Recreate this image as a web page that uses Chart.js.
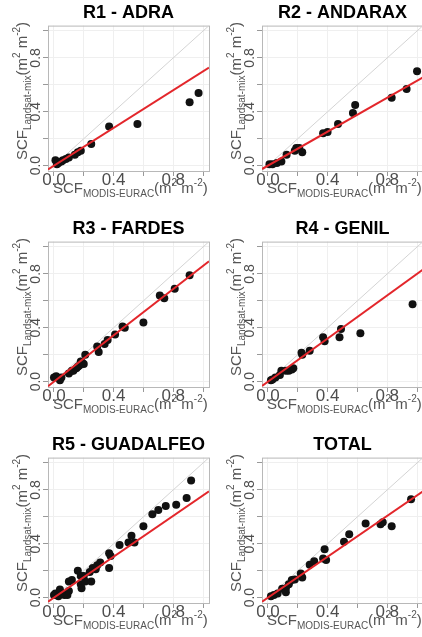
<!DOCTYPE html>
<html>
<head>
<meta charset="utf-8">
<script src="https://cdn.jsdelivr.net/npm/chart.js@4.4.1/dist/chart.umd.min.js"></script>
<style>
  body { margin: 0; background: #fff; overflow: hidden; width: 422px; height: 637px; position: relative; }
  .panel { position: absolute; width: 214px; height: 216px; }
</style>
</head>
<body>
<div class="panel" style="left:0;top:0"><canvas id="c0" width="214" height="216"></canvas></div>
<div class="panel" style="left:214px;top:0"><canvas id="c1" width="214" height="216"></canvas></div>
<div class="panel" style="left:0;top:216px"><canvas id="c2" width="214" height="216"></canvas></div>
<div class="panel" style="left:214px;top:216px"><canvas id="c3" width="214" height="216"></canvas></div>
<div class="panel" style="left:0;top:432px"><canvas id="c4" width="214" height="216"></canvas></div>
<div class="panel" style="left:214px;top:432px"><canvas id="c5" width="214" height="216"></canvas></div>
<script>
const panelTitles = ['R1 - ADRA', 'R2 - ANDARAX', 'R3 - FARDES', 'R4 - GENIL', 'R5 - GUADALFEO', 'TOTAL'];

// SCF MODIS-EURAC (x) vs SCF Landsat-mix (y)
const adraX = [0.01, 0.02, 0.03, 0.05, 0.06, 0.08, 0.10, 0.14, 0.16, 0.18, 0.25, 0.37, 0.56, 0.91, 0.97];
const adraY = [0.04, 0.01, 0.02, 0.03, 0.04, 0.05, 0.06, 0.08, 0.10, 0.11, 0.16, 0.29, 0.31, 0.47, 0.54];

const andaraxX = [0.01, 0.03, 0.06, 0.09, 0.125, 0.18, 0.19, 0.21, 0.23, 0.37, 0.40, 0.47, 0.57, 0.585, 0.83, 0.93, 1.0];
const andaraxY = [0.01, 0.01, 0.02, 0.03, 0.08, 0.11, 0.13, 0.13, 0.10, 0.24, 0.25, 0.31, 0.39, 0.45, 0.505, 0.57, 0.70];

const fardesX = [0.0, 0.015, 0.04, 0.05, 0.10, 0.12, 0.13, 0.15, 0.16, 0.17, 0.18, 0.19, 0.20, 0.21, 0.29, 0.30, 0.34, 0.36, 0.41, 0.46, 0.475, 0.60, 0.71, 0.74, 0.81, 0.91];
const fardesY = [0.03, 0.04, 0.01, 0.03, 0.06, 0.08, 0.08, 0.10, 0.11, 0.12, 0.15, 0.14, 0.13, 0.20, 0.26, 0.22, 0.28, 0.31, 0.35, 0.41, 0.40, 0.44, 0.64, 0.62, 0.69, 0.79];

const genilX = [0.02, 0.03, 0.05, 0.08, 0.09, 0.12, 0.14, 0.16, 0.17, 0.225, 0.23, 0.28, 0.37, 0.38, 0.48, 0.49, 0.62, 0.97];
const genilY = [0.01, 0.015, 0.03, 0.05, 0.08, 0.08, 0.08, 0.09, 0.10, 0.215, 0.20, 0.23, 0.33, 0.30, 0.33, 0.39, 0.36, 0.575];

const guadalfeoX = [0.0, 0.01, 0.03, 0.04, 0.07, 0.09, 0.10, 0.10, 0.12, 0.16, 0.18, 0.18, 0.185, 0.20, 0.21, 0.24, 0.25, 0.26, 0.28, 0.29, 0.31, 0.37, 0.37, 0.38, 0.44, 0.50, 0.52, 0.54, 0.60, 0.66, 0.70, 0.75, 0.82, 0.89, 0.92];
const guadalfeoY = [0.02, 0.03, 0.01, 0.06, 0.02, 0.02, 0.05, 0.12, 0.13, 0.20, 0.16, 0.10, 0.07, 0.16, 0.12, 0.19, 0.12, 0.22, 0.21, 0.24, 0.26, 0.33, 0.22, 0.31, 0.39, 0.41, 0.46, 0.41, 0.53, 0.62, 0.65, 0.68, 0.69, 0.74, 0.87];

const totalX = [0.02, 0.04, 0.065, 0.095, 0.12, 0.12, 0.14, 0.16, 0.18, 0.22, 0.23, 0.28, 0.31, 0.37, 0.38, 0.39, 0.51, 0.545, 0.655, 0.755, 0.77, 0.83, 0.96];
const totalY = [0.01, 0.02, 0.03, 0.065, 0.07, 0.04, 0.10, 0.13, 0.135, 0.18, 0.15, 0.245, 0.27, 0.29, 0.36, 0.28, 0.415, 0.47, 0.55, 0.545, 0.56, 0.53, 0.73];

const seriesX = [adraX, andaraxX, fardesX, genilX, guadalfeoX, totalX];
const seriesY = [adraY, andaraxY, fardesY, genilY, guadalfeoY, totalY];

// fitted regression line per panel (y = a + b x)
const fitSlope = [0.70, 0.63, 0.86, 0.80, 0.76, 0.76];
const fitIntercept = [0.0, 0.0, 0.0, 0.0, 0.0, 0.0];

const tickValues = [0, 0.4, 0.8];
const tickLabels = ['0.0', '0.4', '0.8'];
const axisMin = -0.04, axisMax = 1.04;

const xTitle = [['SCF', 0], ['MODIS-EURAC', 1], ['(m', 0], ['2', 2], [' m', 0], ['-2', 2], [')', 0]];
const yTitle = [['SCF', 0], ['Landsat-mix', 1], ['(m', 0], ['2', 2], [' m', 0], ['-2', 2], [')', 0]];

const FONT = '"Liberation Sans", Arial, sans-serif';

function drawRich(ctx, parts, x, y, rotate) {
    ctx.save();
    ctx.translate(x, y);
    if (rotate) ctx.rotate(-Math.PI / 2);
    ctx.fillStyle = '#555';
    ctx.textBaseline = 'alphabetic';
    ctx.textAlign = 'left';
    let cx = 0;
    parts.forEach(function (p) {
        const size = p[1] === 0 ? 15 : 10;
        const dy = p[1] === 1 ? 4 : (p[1] === 2 ? -7 : 0);
        ctx.font = size + 'px ' + FONT;
        ctx.fillText(p[0], cx, dy);
        cx += ctx.measureText(p[0]).width;
    });
    ctx.restore();
}

const framePlugin = {
    id: 'frame',
    beforeDatasetsDraw(chart) {
        const a = chart.chartArea, ctx = chart.ctx;
        ctx.save();
        ctx.strokeStyle = '#b8b8b8';
        ctx.lineWidth = 1;
        ctx.strokeRect(a.left + 0.5, a.top + 0.5, a.right - a.left, a.bottom - a.top);
        ctx.restore();
    },
    afterDraw(chart) {
        const a = chart.chartArea;
        drawRich(chart.ctx, xTitle, a.left + 5, a.bottom + 22, false);
        drawRich(chart.ctx, yTitle, 27, a.bottom - 11, true);
    }
};

function tickText(v) {
    const k = tickValues.findIndex(t => Math.abs(t - v) < 1e-6);
    return k >= 0 ? tickLabels[k] : '';
}

function createPanel(i) {
    const pts = seriesX[i].map((x, j) => ({ x: x, y: seriesY[i][j] }));
    const fit = [axisMin, axisMax].map(x => ({ x: x, y: fitIntercept[i] + fitSlope[i] * x }));
    const oneToOne = [axisMin, axisMax].map(x => ({ x: x, y: x }));
    return new Chart(document.getElementById('c' + i).getContext('2d'), {
        type: 'scatter',
        data: {
            datasets: [
                { data: fit, showLine: true, borderColor: '#e3262b', borderWidth: 2, pointRadius: 0 },
                { data: pts, backgroundColor: '#111', borderWidth: 0, pointRadius: 4 },
                { data: oneToOne, showLine: true, borderColor: '#d4d4d4', borderWidth: 1, pointRadius: 0 }
            ]
        },
        options: {
            responsive: false,
            animation: false,
            devicePixelRatio: 1,
            layout: { padding: { left: 0, right: 5, top: 0, bottom: 0 } },
            plugins: {
                legend: { display: false },
                tooltip: { enabled: false },
                title: {
                    display: true,
                    text: panelTitles[i],
                    fullSize: false,
                    color: '#000',
                    font: { family: FONT, size: 18, weight: 'bold' },
                    padding: { top: 2, bottom: 2 }
                }
            },
            scales: {
                x: {
                    min: axisMin, max: axisMax,
                    border: { display: false },
                    grid: { color: '#efefef', tickColor: '#999', tickLength: 5 },
                    ticks: { stepSize: 0.2, includeBounds: false, autoSkip: false, maxRotation: 0,
                        padding: -6, color: '#4d4d4d', font: { family: FONT, size: 17 }, callback: tickText },
                    afterFit(s) { s.height = 45; }
                },
                y: {
                    min: axisMin, max: axisMax,
                    border: { display: false },
                    grid: { color: '#efefef', tickColor: '#999', tickLength: 5 },
                    ticks: { stepSize: 0.2, includeBounds: false, autoSkip: false, minRotation: 90, maxRotation: 90,
                        crossAlign: 'center', padding: -3, color: '#4d4d4d', font: { family: FONT, size: 14 }, callback: tickText },
                    afterFit(s) { s.width = 48; }
                }
            }
        },
        plugins: [framePlugin]
    });
}

document.addEventListener('DOMContentLoaded', function () {
    for (let i = 0; i < 6; i++) createPanel(i);
});
</script>
</body>
</html>
